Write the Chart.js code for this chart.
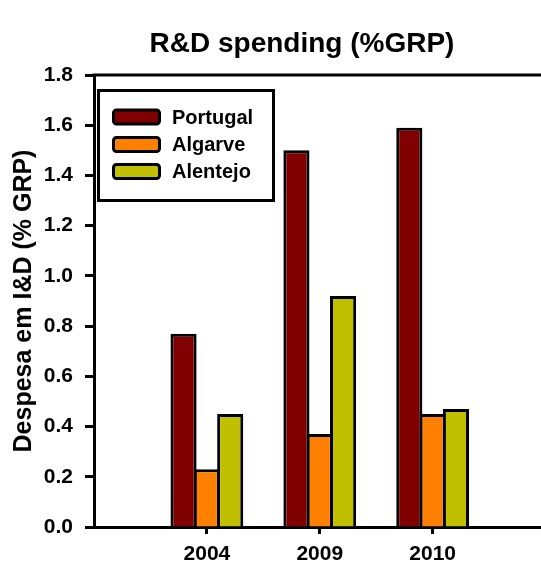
<!DOCTYPE html>
<html>
<head>
<meta charset="utf-8">
<script src="https://cdn.jsdelivr.net/npm/chart.js@4/dist/chart.umd.min.js"></script>
<style>
  html, body { margin: 0; padding: 0; background: #fff; }
  #wrap { width: 541px; height: 568px; }
</style>
</head>
<body>
<div id="wrap"><canvas id="c" width="541" height="568"></canvas></div>
<script>
const chartTitle = 'R&D spending (%GRP)';
const yAxisTitle = 'Despesa em I&D (% GRP)';
const categories = ['2004', '2009', '2010'];
const seriesNames = ['Portugal', 'Algarve', 'Alentejo'];
const portugal = [0.77, 1.50, 1.59];
const algarve = [0.23, 0.37, 0.45];
const alentejo = [0.45, 0.92, 0.47];
const seriesColors = ['#800000', '#FF8000', '#C0C000'];
const yMin = 0, yMax = 1.8, yStep = 0.2;

const FONT = '"Liberation Sans", Arial, sans-serif';
const allSeries = [portugal, algarve, alentejo];

const datasets = allSeries.map((vals, s) => ({
  label: seriesNames[s],
  data: vals.map((v, i) => ({ x: i + 1, y: v })),
  backgroundColor: seriesColors[s],
  borderColor: '#000',
  borderWidth: 3,
  categoryPercentage: 0.62,
  barPercentage: 1.12
}));

const decor = {
  id: 'decor',
  afterDraw(chart) {
    const ctx = chart.ctx;
    const a = chart.chartArea;
    ctx.save();
    // top frame line
    ctx.strokeStyle = '#000';
    ctx.lineWidth = 3;
    ctx.beginPath();
    ctx.moveTo(a.left - 1.5, a.top);
    ctx.lineTo(a.right, a.top);
    ctx.stroke();
    // title
    ctx.fillStyle = '#000';
    ctx.font = 'bold 28px ' + FONT;
    ctx.textAlign = 'center';
    ctx.textBaseline = 'middle';
    ctx.fillText(chartTitle, 302, 44);
    // legend
    ctx.fillStyle = '#fff';
    ctx.fillRect(98.5, 90.5, 175, 110);
    ctx.lineWidth = 3;
    ctx.strokeStyle = '#000';
    ctx.strokeRect(98.5, 90.5, 175, 110);
    ctx.font = 'bold 20px ' + FONT;
    ctx.textAlign = 'left';
    const rows = [117, 144.5, 171.5];
    chart.data.datasets.forEach((ds, i) => {
      const cy = rows[i];
      ctx.beginPath();
      if (ctx.roundRect) ctx.roundRect(113.5, cy - 7, 46, 14, 3);
      else ctx.rect(113.5, cy - 7, 46, 14);
      ctx.fillStyle = ds.backgroundColor;
      ctx.fill();
      ctx.lineWidth = 3;
      ctx.strokeStyle = '#000';
      ctx.stroke();
      ctx.fillStyle = '#000';
      ctx.fillText(ds.label, 172, cy + 1);
    });
    ctx.restore();
  }
};

new Chart(document.getElementById('c'), {
  type: 'bar',
  data: { datasets },
  options: {
    responsive: false,
    animation: false,
    layout: { padding: { top: 75, right: 0, bottom: 0, left: 0 } },
    plugins: {
      legend: { display: false },
      title: { display: false },
      tooltip: { enabled: false }
    },
    scales: {
      x: {
        type: 'linear',
        min: 0,
        max: 3.96,
        offset: false,
        afterBuildTicks(scale) {
          scale.ticks = categories.map((c, i) => ({ value: i + 1 }));
        },
        afterFit(scale) { scale.height = 41; },
        ticks: {
          autoSkip: false,
          maxRotation: 0,
          padding: 8,
          color: '#000',
          font: { family: FONT, size: 21, weight: 'bold' },
          callback: (v) => categories[Math.round(v) - 1] ?? ''
        },
        grid: {
          offset: false,
          drawOnChartArea: false,
          drawTicks: true,
          tickLength: 7,
          tickWidth: 3,
          tickColor: '#000'
        },
        border: { display: true, color: '#000', width: 3 }
      },
      y: {
        min: yMin,
        max: yMax,
        afterFit(scale) { scale.width = 94; },
        ticks: {
          stepSize: yStep,
          padding: 12,
          color: '#000',
          font: { family: FONT, size: 21, weight: 'bold' },
          callback: (v) => Number(v).toFixed(1)
        },
        grid: {
          drawOnChartArea: false,
          drawTicks: true,
          tickLength: 9,
          tickWidth: 3,
          tickColor: '#000'
        },
        border: { display: true, color: '#000', width: 3 },
        title: {
          display: true,
          text: yAxisTitle,
          color: '#000',
          font: { family: FONT, size: 25, weight: 'bold' },
          padding: { top: 9, bottom: 0 }
        }
      }
    }
  },
  plugins: [decor]
});
</script>
</body>
</html>
